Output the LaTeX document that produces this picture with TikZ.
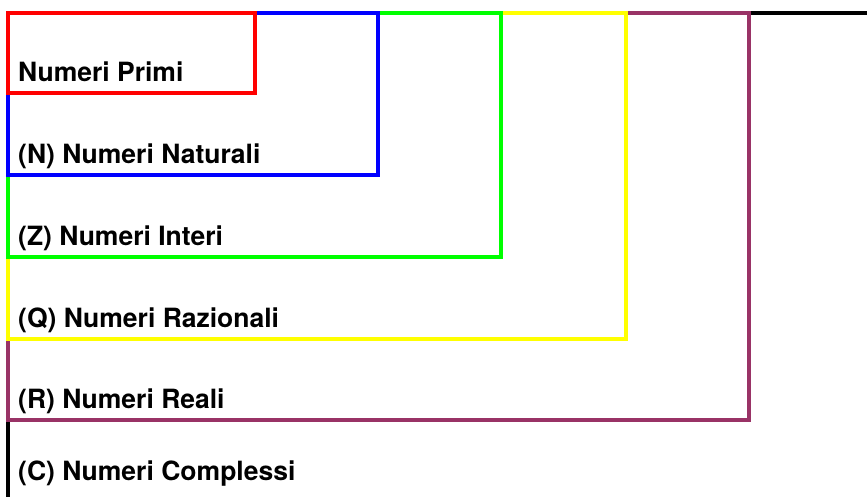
\documentclass[tikz,border=0pt]{standalone}
\usepackage{fontspec}
\usepackage{xcolor}
\usepackage{tikz}
\newfontfamily\setfont{TeX Gyre Heros}
\definecolor{reali}{RGB}{153,51,102}
\definecolor{interi}{RGB}{0,255,0}
\definecolor{razionali}{RGB}{255,255,0}
\newcommand{\SetLeft}{8}
\newcommand{\SetTop}{13}
\tikzset{
  setbox/.style={line width=4pt},            % one box per number set
  setlabel/.style={anchor=base west, inner sep=0pt,
    font=\setfont\bfseries\fontsize{26.5}{30}\selectfont}
}
\begin{document}
\begin{tikzpicture}[x=1pt,y=-1pt]
  \useasboundingbox (0,0) rectangle (867,497);
  % outer sets first, inner ones drawn on top
  \foreach \r/\b/\col in {900/530/black, 749/420/reali, 626/339/razionali,
      501/257/interi, 378/175/blue, 255/93/red}{%
    \draw[setbox, draw=\col] (\SetLeft,\SetTop) rectangle (\r,\b);
  }
  % labels sit just above each bottom edge
  \node[setlabel] (primi) at (18,81.5) {Numeri Primi};
  \node[setlabel] (naturali) at (18,163.5) {(N) Numeri Naturali};
  \node[setlabel] (interi) at (18,245.5) {(Z) Numeri Interi};
  \node[setlabel] (razionali) at (18,327.5) {(Q) Numeri Razionali};
  \node[setlabel] (reali) at (18,408.5) {(R) Numeri Reali};
  \node[setlabel] (complessi) at (18,480.5) {(C) Numeri Complessi};
\end{tikzpicture}
\end{document}
